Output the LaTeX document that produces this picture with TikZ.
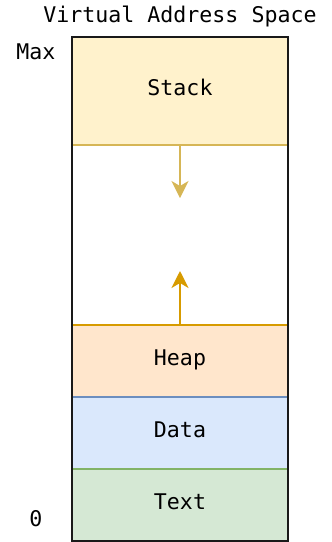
\documentclass[tikz,border=0pt]{standalone}
\usepackage{fontspec}
\setmonofont{DejaVu Sans Mono}
\usetikzlibrary{arrows.meta,positioning}

\definecolor{stackfill}{HTML}{FFF2CC}
\definecolor{stackline}{HTML}{D6B656}
\definecolor{heapfill}{HTML}{FFE6CC}
\definecolor{heapline}{HTML}{D79B00}
\definecolor{datafill}{HTML}{DAE8FC}
\definecolor{dataline}{HTML}{6C8EBF}
\definecolor{textfill}{HTML}{D5E8D4}
\definecolor{textline}{HTML}{82B366}

\begin{document}
\begin{tikzpicture}[
    x=1pt, y=-1pt,
    font=\ttfamily\fontsize{21.6}{25}\selectfont,
    segment/.style={draw, line width=1.5pt, minimum width=216pt, outer sep=0pt, inner sep=0pt,
      text height=15pt, text depth=7pt},
    arrow/.style={-{Stealth[length=17pt,width=17pt,inset=5pt]}, line width=1.5pt}
  ]
    \useasboundingbox (0,0) rectangle (332,542);
    \node[segment, fill=stackfill, draw=stackline, minimum height=108pt] (stack) at (180,91) {Stack};
    \node[segment, fill=heapfill, draw=heapline, minimum height=72pt] (heap) at (180,361) {Heap};
    \node[segment, fill=datafill, draw=dataline, minimum height=72pt, below=0pt of heap] (data) {Data};
    \node[segment, fill=textfill, draw=textline, minimum height=72pt, below=0pt of data] (text) {Text};
    \draw[line width=1.5pt, black!90] (stack.north west) rectangle (text.south east);
    \node (title) at (180,16) {Virtual Address Space};
    \node (max) at (36,52) {Max};
    \node (zero) at (36,519) {0};
    \coordinate (growdown) at (180,198);
    \coordinate (growup) at (180,271);
    \draw[arrow, stackline] (stack) -- (growdown);
    \draw[arrow, heapline] (heap) -- (growup);
  \end{tikzpicture}
\end{document}
